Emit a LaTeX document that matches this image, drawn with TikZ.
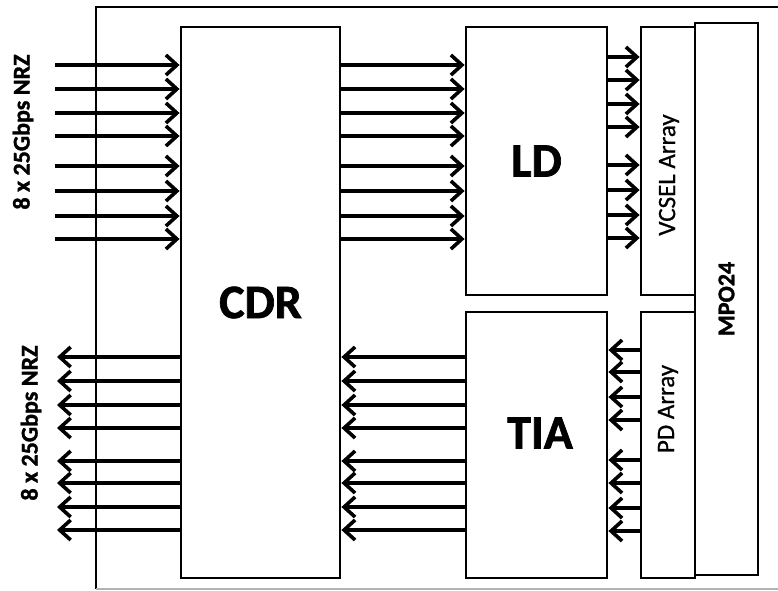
\documentclass[tikz,border=0pt]{standalone}
\usepackage{fontspec}
\setmainfont{Carlito}[BoldFeatures={FakeBold=1.4}]
\newfontfamily\medfont{Carlito}[FakeBold=0.8]
\usetikzlibrary{arrows.meta, positioning}

\begin{document}
\begin{tikzpicture}[
  x=1pt, y=-1pt,
  box/.style={draw, line width=2.8pt, inner sep=0pt},
  blk/.style={box, font=\fontsize{48}{48}\bfseries\selectfont},
  arraybox/.style={box},
  vtxt/.style={rotate=90, inner sep=0pt, font=\fontsize{25}{25}\medfont},
  side/.style={rotate=90, inner sep=0pt, font=\fontsize{24}{24}\bfseries\selectfont},
  sig/.style={-{Straight Barb[length=11pt, width=20pt]}, line width=3.6pt},
]
  \useasboundingbox (0,0) rectangle (778,590);
  \fill[white] (0,0) rectangle (778,590);

  % Module outline (open on the right)
  \draw[line width=2pt] (778,7) -- (96,7) -- (96,589);
  \draw[line width=1.2pt, black!30] (96,589) -- (778,589);

  % Main blocks
  \node[blk, minimum width=159pt, minimum height=551pt] (cdr) at (260.5,302.5) {CDR};
  \node[blk, minimum width=141pt, minimum height=268pt] (ld) at (536.5,161) {LD};
  \node[box, minimum width=141pt, minimum height=266pt] (tia) at (536.5,445) {};
  \node[arraybox, minimum width=54pt, minimum height=268pt] (vcsel) at (668,161) {};
  \node[arraybox, minimum width=54pt, minimum height=266pt] (pd) at (668,445) {};
  \node[box, minimum width=63pt, minimum height=552pt,
        font=\fontsize{24}{24}\bfseries\selectfont] (mpo) at (726.5,299) {\rotatebox{90}{MPO24}};

  % Labels off centre
  \node[inner sep=0pt, font=\fontsize{48}{48}\bfseries\selectfont] (tiatxt) at (540,433) {TIA};
  \node[vtxt] (vcseltxt) at (669,175) {VCSEL Array};
  \node[vtxt] (pdtxt) at (668,409) {PD Array};
  \node[side] (intxt) at (23,132) {8 x 25Gbps NRZ};
  \node[side] (outtxt) at (31,423) {8 x 25Gbps NRZ};

  % Transmit lanes
  \foreach \y [count=\i] in {65,89,113,136,166,191,216,239} {
    \coordinate (in\i) at (55,\y);
    \draw[sig] (in\i) -- (in\i -| cdr.west);
    \draw[sig] (in\i -| cdr.east) -- (in\i -| ld.west);
  }
  \foreach \y [count=\i] in {57,80,104,127,165,190,215,238}
    \draw[sig] (ld.east |- 0,\y) -- (vcsel.west |- 0,\y);

  % Receive lanes
  \foreach \y [count=\i] in {357,381,405,428,461,483,507,530} {
    \coordinate (out\i) at (57,\y);
    \draw[sig] (out\i -| cdr.west) -- (out\i);
    \draw[sig] (out\i -| tia.west) -- (out\i -| cdr.east);
  }
  \foreach \y [count=\i] in {350,372,397,420,460,483,508,531}
    \draw[sig] (pd.west |- 0,\y) -- (tia.east |- 0,\y);
\end{tikzpicture}
\end{document}
